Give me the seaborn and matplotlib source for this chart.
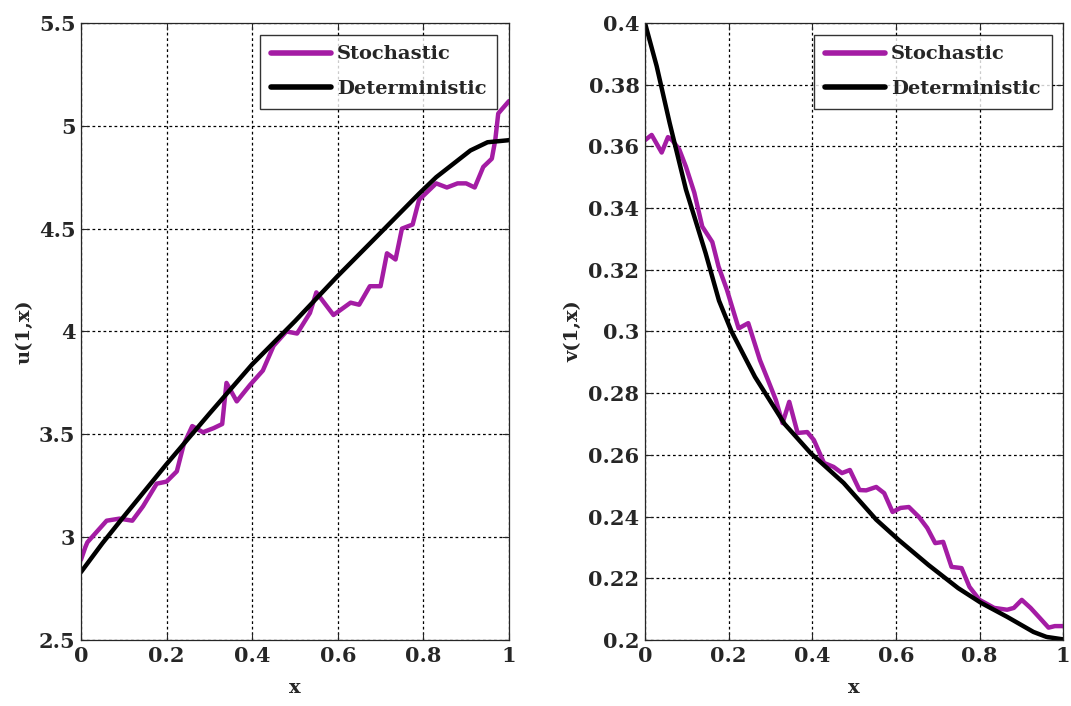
import numpy as np
import pandas as pd
import matplotlib
matplotlib.use('Agg')
import matplotlib.pyplot as plt
import seaborn as sns

# u(1,x): valores
u_sto_x = [0.0, 0.01, 0.015, 0.06, 0.09, 0.12, 0.145, 0.177, 0.2, 0.224, 0.24, 0.26,
           0.285, 0.31, 0.33, 0.34, 0.364, 0.395, 0.425, 0.45, 0.48, 0.505, 0.535,
           0.55, 0.59, 0.63, 0.65, 0.675, 0.70, 0.715, 0.735, 0.75, 0.775, 0.79,
           0.83, 0.855, 0.88, 0.90, 0.92, 0.94, 0.96, 0.968, 0.975, 1.0]
u_sto_y = [2.89, 2.95, 2.975, 3.08, 3.09, 3.08, 3.15, 3.26, 3.27, 3.32, 3.45, 3.54,
           3.51, 3.53, 3.55, 3.75, 3.66, 3.74, 3.81, 3.93, 4.0, 3.99, 4.09,
           4.19, 4.08, 4.14, 4.13, 4.22, 4.22, 4.38, 4.35, 4.50, 4.52, 4.64,
           4.72, 4.70, 4.72, 4.72, 4.70, 4.80, 4.84, 4.93, 5.06, 5.12]
u_det_x = [0.0, 0.05, 0.1, 0.2, 0.3, 0.4, 0.5, 0.6, 0.7, 0.79, 0.83, 0.91, 0.95, 1.0]
u_det_y = [2.83, 2.97, 3.1, 3.355, 3.6, 3.84, 4.05, 4.27, 4.48, 4.67, 4.75, 4.88, 4.92, 4.93]

# v(1,x)
v_sto_x = [0.0, 0.016, 0.04, 0.055, 0.065, 0.082, 0.098, 0.118, 0.137, 0.161, 0.176,
           0.196, 0.224, 0.247, 0.275, 0.294, 0.313, 0.329, 0.345, 0.365, 0.388,
           0.404, 0.428, 0.451, 0.471, 0.49, 0.513, 0.529, 0.553, 0.572, 0.592,
           0.611, 0.631, 0.655, 0.675, 0.694, 0.713, 0.733, 0.757, 0.776, 0.80,
           0.835, 0.866, 0.882, 0.901, 0.922, 0.945, 0.965, 0.98, 1.0]
v_sto_y = [0.362, 0.3637, 0.358, 0.363, 0.362, 0.359, 0.3534, 0.345, 0.334, 0.329, 0.321,
           0.3135, 0.301, 0.3027, 0.2907, 0.2843, 0.2778, 0.2703, 0.2772, 0.2671, 0.2674,
           0.2648, 0.2574, 0.2561, 0.2541, 0.2551, 0.2486, 0.2485, 0.2496, 0.2476, 0.2415,
           0.2428, 0.2431, 0.2399, 0.2363, 0.2314, 0.2318, 0.2237, 0.2233, 0.2172, 0.213,
           0.2104, 0.2098, 0.2104, 0.213, 0.2104, 0.207, 0.204, 0.2045, 0.2045]
v_det_x = [0.0, 0.028, 0.059, 0.098, 0.145, 0.177, 0.207, 0.263, 0.334, 0.396, 0.475,
           0.553, 0.607, 0.678, 0.749, 0.804, 0.866, 0.929, 0.96, 1.0]
v_det_y = [0.4, 0.386, 0.3676, 0.346, 0.3254, 0.310, 0.300, 0.2853, 0.270, 0.2606, 0.2509,
           0.239, 0.2324, 0.2243, 0.2168, 0.212, 0.2075, 0.2026, 0.201, 0.2002]

series_names = ['Stochastic', 'Deterministic']
cores = {'Stochastic': '#a41ca4', 'Deterministic': 'black'}

sns.set_style("ticks")
plt.rcParams['font.family'] = ['DejaVu Serif', 'DejaVu Sans']
plt.rcParams['font.weight'] = 'bold'
plt.rcParams['font.size'] = 14


def montar_df(sx, sy, dx, dy):
    df_s = pd.DataFrame({'x': sx, 'y': sy, 'serie': series_names[0]})
    df_d = pd.DataFrame({'x': dx, 'y': dy, 'serie': series_names[1]})
    return pd.concat([df_s, df_d], ignore_index=True)


def desenhar(ax, df, ylim, yticks, ylabel):
    sns.lineplot(data=df, x='x', y='y', hue='serie', palette=cores, ax=ax,
                 linewidth=3.2, sort=False, estimator=None, legend=True)
    ax.set_xlim(0, 1)
    ax.set_ylim(*ylim)
    ax.set_xticks(np.arange(0, 1.01, 0.2))
    ax.set_xticklabels(['0', '0.2', '0.4', '0.6', '0.8', '1'])
    ax.set_yticks(yticks)
    ax.set_yticklabels([f'{t:g}' for t in yticks])
    ax.grid(True, color='black', linestyle=(0, (2.2, 2.2)), linewidth=0.9)
    ax.tick_params(direction='in', length=5, width=0.8, labelsize=15, pad=4,
                   top=True, right=True)
    for s in ax.spines.values():
        s.set_linewidth(0.9)
    ax.set_xlabel('x', fontsize=14, fontweight='bold', labelpad=10)
    ax.set_ylabel(ylabel, fontsize=14, fontweight='bold', labelpad=4)
    leg = ax.legend(loc='upper right', fontsize=14, handlelength=3.1,
                    frameon=True, fancybox=False, edgecolor='black',
                    borderaxespad=0.6, handletextpad=0.3, labelspacing=0.85,
                    borderpad=0.55)
    leg.get_frame().set_linewidth(1.0)
    for line in leg.get_lines():
        line.set_linewidth(4)


fig = plt.figure(figsize=(10.71, 7.06), dpi=100)
ax1 = fig.add_axes([0.0756, 0.0935, 0.3996, 0.874])
ax2 = fig.add_axes([0.6022, 0.0935, 0.3905, 0.874])

desenhar(ax1, montar_df(u_sto_x, u_sto_y, u_det_x, u_det_y), (2.5, 5.5),
         [2.5, 3, 3.5, 4, 4.5, 5, 5.5], 'u(1,x)')
desenhar(ax2, montar_df(v_sto_x, v_sto_y, v_det_x, v_det_y), (0.2, 0.4),
         np.round(np.arange(0.2, 0.4001, 0.02), 2), 'v(1,x)')

fig.savefig('out.png', dpi=100)
